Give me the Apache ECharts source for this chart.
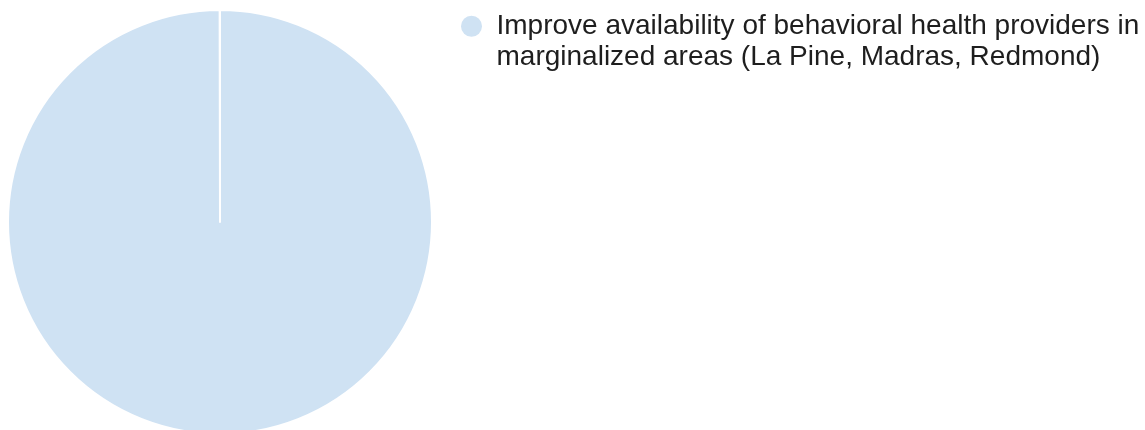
<!DOCTYPE html>
<html>
<head>
<meta charset="utf-8">
<script src="https://cdn.jsdelivr.net/npm/echarts@6/dist/echarts.min.js"></script>
<style>
html,body{margin:0;padding:0;background:#fff;}
#c{width:1145px;height:430px;}
</style>
</head>
<body>
<div id="c"></div>
<script>
const categories = ['Improve availability of behavioral health providers in marginalized areas (La Pine, Madras, Redmond)'];
const values = [1];
const colors = ['#cfe2f3'];

const chart = echarts.init(document.getElementById('c'), null, {renderer: 'canvas'});
chart.setOption({
  animation: false,
  color: colors,
  legend: {
    orient: 'vertical',
    left: 461,
    top: -21,
    padding: 0,
    icon: 'circle',
    itemWidth: 40,
    itemHeight: 21,
    itemStyle: {borderWidth: 0},
    selectedMode: false,
    data: categories,
    formatter: function (name) {
      return '\n' + name.replace(' in marginalized', ' in\nmarginalized');
    },
    textStyle: {
      fontFamily: 'Liberation Sans, Arial, sans-serif',
      fontSize: 28,
      color: '#1e1e1e',
      lineHeight: 31.5
    }
  },
  series: [{
    type: 'pie',
    center: [220, 222],
    radius: [0, 212],
    startAngle: 90,
    endAngle: -269.9,
    clockwise: true,
    label: {show: false},
    labelLine: {show: false},
    emphasis: {disabled: true},
    itemStyle: {borderColor: '#ffffff', borderWidth: 2},
    data: categories.map((n, i) => ({name: n, value: values[i]}))
  }]
});
</script>
</body>
</html>
